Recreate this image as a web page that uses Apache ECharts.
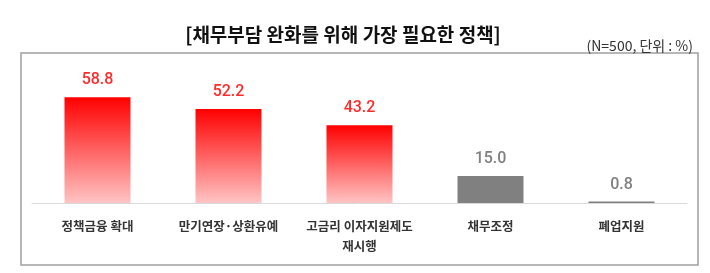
<!DOCTYPE html>
<html>
<head>
<meta charset="utf-8">
<script src="https://cdn.jsdelivr.net/npm/echarts@6/dist/echarts.min.js"></script>
<style>
  html, body { margin: 0; padding: 0; background: #fff; }
  #chart { width: 710px; height: 273px; }
</style>
</head>
<body>
<div id="chart"></div>
<script>
const categories = ['정책금융 확대', '만기연장·상환유예', '고금리 이자지원제도\n재시행', '채무조정', '폐업지원']
const values = [58.8, 52.2, 43.2, 15.0, 0.8]
const redCount = 3 // first three bars are highlighted in red

const chart = echarts.init(document.getElementById('chart'))

const redFill = new echarts.graphic.LinearGradient(0, 0, 0, 1, [
  { offset: 0, color: '#ff0000' },
  { offset: 1, color: '#ffc4c4' },
])

const option = {
  animation: false,
  title: [
    {
      text: '[채무부담 완화를 위해 가장 필요한 정책]',
      left: 338,
      top: 20,
      textAlign: 'center',
      textStyle: { fontFamily: 'Noto Sans CJK KR', fontSize: 19, fontWeight: 'bold', color: '#111' },
    },
    {
      text: '(N=500, 단위 : %)',
      right: 12,
      top: 34,
      textStyle: { fontFamily: 'Noto Sans CJK KR', fontSize: 14, fontWeight: 'normal', color: '#333' },
    },
  ],
  graphic: [
    {
      type: 'rect',
      shape: { x: 21, y: 53, width: 677, height: 212 },
      style: { fill: 'none', stroke: '#a0a0a0', lineWidth: 1.5 },
      silent: true,
    },
  ],
  grid: { left: 32, right: 23, top: 95, bottom: 70 },
  xAxis: {
    type: 'category',
    data: categories,
    axisLine: { lineStyle: { color: '#d9d9d9', width: 1 } },
    axisTick: { show: false },
    axisLabel: {
      margin: 13,
      interval: 0,
      lineHeight: 20,
      fontFamily: 'Noto Sans CJK KR',
      fontSize: 12.5,
      fontWeight: 'bold',
      color: '#333',
    },
  },
  yAxis: {
    type: 'value',
    min: 0,
    max: 60,
    show: false,
    splitLine: { show: false },
  },
  series: [
    {
      type: 'bar',
      barWidth: 66,
      data: values.map((v, i) => ({
        value: v,
        itemStyle: { color: i < redCount ? redFill : '#808080' },
        label: { color: i < redCount ? '#ff2a2a' : '#808080' },
      })),
      label: {
        show: true,
        position: 'top',
        distance: 9,
        formatter: p => p.value.toFixed(1),
        fontFamily: 'Roboto',
        fontSize: 16,
        fontWeight: 500,
      },
    },
  ],
}

chart.setOption(option)
</script>
</body>
</html>
